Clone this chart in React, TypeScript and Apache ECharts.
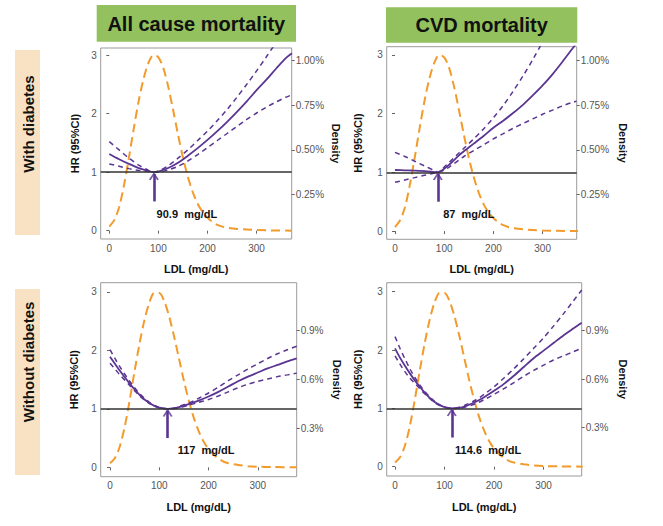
import React, { useEffect, useRef } from 'react';
import * as echarts from 'echarts';

// ---------- data ----------
const X_TICKS = [0, 100, 200, 300];
const HR_TICKS = [0, 1, 2, 3];
const DENS_TICKS_TOP = [0.25, 0.5, 0.75, 1.0];
const DENS_TICKS_BOTTOM = [0.3, 0.6, 0.9];

const COL_TITLES = ['All cause mortality', 'CVD mortality'];
const ROW_TITLES = ['With diabetes', 'Without diabetes'];

// density (drawn in HR units)
const densXTop = [0, 10, 20, 30, 40, 50, 60, 70, 80, 90, 100, 110, 120, 130, 140, 150, 160, 170, 180, 190, 200, 210, 220, 230, 240, 260, 280, 300, 330, 372];
const densTop = [0.07, 0.18, 0.4, 0.78, 1.25, 1.75, 2.22, 2.6, 2.87, 3.0, 2.96, 2.78, 2.46, 2.06, 1.64, 1.25, 0.92, 0.66, 0.46, 0.32, 0.22, 0.15, 0.1, 0.07, 0.05, 0.03, 0.02, 0.01, 0.005, 0.0];
const densXBottom = [0, 10, 20, 30, 40, 50, 60, 70, 80, 90, 100, 110, 120, 130, 140, 150, 160, 170, 180, 190, 200, 210, 220, 230, 240, 260, 280, 300, 330, 379];
const densBottom = [0.07, 0.16, 0.36, 0.7, 1.15, 1.65, 2.12, 2.52, 2.82, 2.98, 2.98, 2.84, 2.58, 2.24, 1.86, 1.48, 1.14, 0.85, 0.62, 0.44, 0.31, 0.22, 0.15, 0.1, 0.07, 0.04, 0.02, 0.01, 0.005, 0.0];

// With diabetes, all cause
const ldlWA = [0, 20, 40, 60, 80, 90.9, 100, 120, 140, 160, 180, 200, 220, 240, 260, 280, 300, 320, 340, 360, 372];
const hrWA = [1.31, 1.22, 1.14, 1.07, 1.02, 1.0, 1.01, 1.07, 1.16, 1.28, 1.41, 1.55, 1.7, 1.86, 2.03, 2.21, 2.4, 2.58, 2.77, 2.95, 3.03];
const upWA = [1.52, 1.38, 1.24, 1.12, 1.03, 1.0, 1.02, 1.11, 1.24, 1.38, 1.54, 1.7, 1.88, 2.07, 2.28, 2.5, 2.73, 2.97, 3.22, 3.47, 3.62];
const loWA = [1.14, 1.1, 1.06, 1.03, 1.01, 1.0, 1.0, 1.04, 1.1, 1.19, 1.3, 1.42, 1.54, 1.66, 1.78, 1.9, 2.01, 2.11, 2.2, 2.28, 2.32];

// With diabetes, CVD
const ldlWC = [0, 20, 40, 60, 80, 87, 100, 110, 120, 130, 140, 160, 180, 200, 220, 240, 260, 280, 300, 320, 340, 360, 369];
const hrWC = [1.04, 1.035, 1.03, 1.02, 1.005, 1.0, 1.06, 1.13, 1.21, 1.29, 1.36, 1.49, 1.62, 1.76, 1.88, 2.01, 2.15, 2.31, 2.48, 2.67, 2.88, 3.1, 3.2];
const upWC = [1.34, 1.27, 1.19, 1.11, 1.03, 1.0, 1.09, 1.17, 1.25, 1.33, 1.41, 1.57, 1.74, 1.93, 2.14, 2.38, 2.64, 2.92, 3.22, 3.52, 3.82, 4.12, 4.26];
const loWC = [0.83, 0.87, 0.91, 0.95, 0.99, 1.0, 1.04, 1.09, 1.15, 1.21, 1.27, 1.37, 1.47, 1.57, 1.66, 1.75, 1.83, 1.91, 1.99, 2.06, 2.13, 2.19, 2.21];

// Without diabetes, all cause
const ldlNA = [0, 10, 20, 30, 40, 50, 60, 70, 80, 90, 100, 117, 130, 140, 160, 180, 200, 220, 240, 260, 280, 300, 320, 340, 360, 379];
const hrNA = [1.89, 1.77, 1.65, 1.54, 1.43, 1.33, 1.24, 1.16, 1.1, 1.05, 1.02, 1.0, 1.01, 1.03, 1.08, 1.14, 1.21, 1.29, 1.38, 1.47, 1.55, 1.62, 1.69, 1.75, 1.81, 1.86];
const upNA = [2.01, 1.86, 1.72, 1.59, 1.47, 1.36, 1.26, 1.18, 1.11, 1.06, 1.02, 1.0, 1.01, 1.04, 1.1, 1.18, 1.27, 1.37, 1.48, 1.58, 1.68, 1.77, 1.86, 1.94, 2.01, 2.07];
const loNA = [1.78, 1.68, 1.58, 1.49, 1.4, 1.31, 1.22, 1.15, 1.09, 1.05, 1.02, 1.0, 1.0, 1.02, 1.06, 1.11, 1.16, 1.22, 1.29, 1.36, 1.42, 1.47, 1.51, 1.55, 1.58, 1.61];

// Without diabetes, CVD
const ldlNC = [0, 10, 20, 30, 40, 50, 60, 70, 80, 90, 100, 114.6, 130, 140, 160, 180, 200, 220, 240, 260, 280, 300, 320, 340, 360, 377];
const hrNC = [2.03, 1.87, 1.73, 1.6, 1.48, 1.37, 1.27, 1.18, 1.11, 1.06, 1.02, 1.0, 1.01, 1.03, 1.1, 1.19, 1.3, 1.42, 1.56, 1.71, 1.86, 1.99, 2.12, 2.25, 2.37, 2.47];
const upNC = [2.23, 2.03, 1.85, 1.68, 1.53, 1.4, 1.29, 1.2, 1.12, 1.06, 1.02, 1.0, 1.02, 1.05, 1.13, 1.24, 1.37, 1.52, 1.68, 1.85, 2.03, 2.21, 2.41, 2.62, 2.84, 3.03];
const loNC = [1.9, 1.76, 1.63, 1.52, 1.43, 1.34, 1.25, 1.17, 1.1, 1.05, 1.02, 1.0, 1.0, 1.02, 1.07, 1.15, 1.24, 1.34, 1.44, 1.55, 1.65, 1.74, 1.83, 1.9, 1.97, 2.03];

const NADIRS = [90.9, 87, 117, 114.6];
const NADIR_LABELS = ['90.9  mg/dL', '87  mg/dL', '117  mg/dL', '114.6  mg/dL'];

// ---------- layout / style ----------
const FONT = '"Liberation Sans", Arial, Helvetica, sans-serif';
const ORANGE = '#f29b2c';
const PURPLE = '#5a3592';
const CHEVRON = 'path://M0,7 L5,0 L10,7 L8.2,7.6 L5,2.8 L1.8,7.6 Z';

const LAYOUT = [
  { left: 100.7, top: 48, width: 191, height: 191, xMin: -17.5, xMax: 371.5, yMin: -0.142, yMax: 3.12, dMax: 1.071, hrGap: 20, dGap: 39, xGap: 24, labelX: 158 },
  { left: 386.7, top: 46.7, width: 190, height: 192.6, xMin: -16.9, xMax: 369.3, yMin: -0.14, yMax: 3.14, dMax: 1.078, hrGap: 23, dGap: 41, xGap: 24, labelX: 150 },
  { left: 100.7, top: 282.7, width: 196, height: 194, xMin: -18.9, xMax: 379, yMin: -0.16, yMax: 3.155, dMax: 1.196, hrGap: 21, dGap: 35, xGap: 25, labelX: 195 },
  { left: 386.7, top: 282.7, width: 195, height: 193.3, xMin: -16.8, xMax: 377, yMin: -0.16, yMax: 3.155, dMax: 1.197, hrGap: 23, dGap: 36, xGap: 25, labelX: 188 },
];

const zip = (xs: number[], ys: number[]) => xs.map((x, i) => [x, ys[i]]);

export default function App() {
  const ref = useRef<HTMLDivElement>(null);
  useEffect(() => {
    if (!ref.current) return;
    const chart = echarts.init(ref.current, undefined, { renderer: 'svg' });

    const curves = [
      { ldl: ldlWA, hr: hrWA, up: upWA, lo: loWA, dx: densXTop, d: densTop, dTicks: DENS_TICKS_TOP, dDec: 2 },
      { ldl: ldlWC, hr: hrWC, up: upWC, lo: loWC, dx: densXTop, d: densTop, dTicks: DENS_TICKS_TOP, dDec: 2 },
      { ldl: ldlNA, hr: hrNA, up: upNA, lo: loNA, dx: densXBottom, d: densBottom, dTicks: DENS_TICKS_BOTTOM, dDec: 1 },
      { ldl: ldlNC, hr: hrNC, up: upNC, lo: loNC, dx: densXBottom, d: densBottom, dTicks: DENS_TICKS_BOTTOM, dDec: 1 },
    ];

    const tickLabel = { color: '#555', fontSize: 10, fontFamily: FONT };
    const nameStyle = { fontWeight: 'bold', fontSize: 11, color: '#111', fontFamily: FONT };

    const grid = LAYOUT.map((L) => ({
      left: L.left, top: L.top, width: L.width, height: L.height,
      show: true, borderColor: '#9a9a9a', borderWidth: 1, backgroundColor: 'transparent',
    }));

    const xAxis = LAYOUT.map((L, i) => ({
      type: 'value', gridIndex: i, min: L.xMin, max: L.xMax,
      axisLine: { show: false }, splitLine: { show: false },
      axisTick: { show: true, length: 3, lineStyle: { color: '#666' }, customValues: X_TICKS },
      axisLabel: { ...tickLabel, margin: 4, customValues: X_TICKS },
      name: 'LDL (mg/dL)', nameLocation: 'middle', nameGap: L.xGap, nameTextStyle: nameStyle,
    }));

    const yAxis: any[] = [];
    LAYOUT.forEach((L, i) => {
      const c = curves[i];
      yAxis.push({
        type: 'value', gridIndex: i, position: 'left', min: L.yMin, max: L.yMax,
        axisLine: { show: false }, splitLine: { show: false },
        axisTick: { show: true, length: 3, lineStyle: { color: '#666' }, customValues: HR_TICKS },
        axisLabel: { ...tickLabel, margin: 4, customValues: HR_TICKS },
        name: 'HR (95%CI)', nameLocation: 'middle', nameRotate: 90, nameGap: L.hrGap, nameTextStyle: nameStyle,
      });
      yAxis.push({
        type: 'value', gridIndex: i, position: 'right', min: 0, max: L.dMax,
        axisLine: { show: false }, splitLine: { show: false },
        axisTick: { show: true, length: 3, lineStyle: { color: '#666' }, customValues: c.dTicks },
        axisLabel: { ...tickLabel, margin: 4, customValues: c.dTicks, formatter: (v: number) => v.toFixed(c.dDec) + '%' },
        name: 'Density', nameLocation: 'middle', nameRotate: -90, nameGap: L.dGap, nameTextStyle: nameStyle,
      });
    });

    const series: any[] = [];
    curves.forEach((c, i) => {
      const base = { type: 'line', xAxisIndex: i, yAxisIndex: 2 * i, showSymbol: false, silent: true, clip: true };
      series.push({
        ...base, data: zip(c.dx, c.d), smooth: 0.3,
        lineStyle: { color: ORANGE, width: 2, type: [9, 5] },
      });
      series.push({
        ...base, data: zip(c.ldl, c.lo), smooth: 0.3,
        lineStyle: { color: PURPLE, width: 1.5, type: [5, 4] },
        markLine: {
          silent: true, symbol: 'none', label: { show: false }, animation: false,
          lineStyle: { color: '#333', width: 1.5, type: 'solid' },
          data: [{ yAxis: 1 }],
        },
      });
      series.push({
        ...base, data: zip(c.ldl, c.up), smooth: 0.3,
        lineStyle: { color: PURPLE, width: 1.5, type: [5, 4] },
      });
      series.push({
        ...base, data: zip(c.ldl, c.hr), smooth: 0.3,
        lineStyle: { color: PURPLE, width: 1.8, type: 'solid' },
        markLine: {
          silent: true, symbol: 'none', label: { show: false }, animation: false,
          lineStyle: { color: PURPLE, width: 2.6, type: 'solid' },
          data: [[{ coord: [NADIRS[i], 0.5] }, { coord: [NADIRS[i], 0.97] }]],
        },
        markPoint: {
          silent: true, symbol: 'rect', symbolSize: 1, animation: false,
          itemStyle: { color: 'rgba(0,0,0,0)' },
          label: { show: true, position: 'inside', formatter: NADIR_LABELS[i], fontWeight: 'bold', fontSize: 11, color: '#111', fontFamily: FONT },
          data: [{ coord: [LAYOUT[i].labelX, 0.29] }],
        },
      });
      // arrow head
      series.push({
        type: 'scatter', xAxisIndex: i, yAxisIndex: 2 * i, silent: true, z: 5,
        data: [[NADIRS[i], 1.0]],
        symbol: CHEVRON, symbolSize: [10, 8], symbolOffset: [0, '50%'],
        itemStyle: { color: PURPLE },
      });
    });

    const graphic: any[] = [
      { type: 'rect', shape: { x: 96.7, y: 5, width: 199.3, height: 36.7 }, style: { fill: '#92c15d' } },
      { type: 'text', x: 196.3, y: 23.5, style: { text: COL_TITLES[0], font: `bold 20px ${FONT}`, fill: '#111', textAlign: 'center', textVerticalAlign: 'middle' } },
      { type: 'rect', shape: { x: 386, y: 7.3, width: 191.3, height: 35.4 }, style: { fill: '#92c15d' } },
      { type: 'text', x: 481.7, y: 25, style: { text: COL_TITLES[1], font: `bold 20px ${FONT}`, fill: '#111', textAlign: 'center', textVerticalAlign: 'middle' } },
      { type: 'rect', shape: { x: 15, y: 50, width: 25, height: 185 }, style: { fill: '#f9e1c3' } },
      { type: 'text', x: 28, y: 124, rotation: Math.PI / 2, style: { text: ROW_TITLES[0], font: `bold 15px ${FONT}`, fill: '#111', textAlign: 'center', textVerticalAlign: 'middle' } },
      { type: 'rect', shape: { x: 15, y: 289, width: 25, height: 186 }, style: { fill: '#f9e1c3' } },
      { type: 'text', x: 28, y: 362, rotation: Math.PI / 2, style: { text: ROW_TITLES[1], font: `bold 15px ${FONT}`, fill: '#111', textAlign: 'center', textVerticalAlign: 'middle' } },
    ];

    chart.setOption({
      animation: false,
      backgroundColor: '#ffffff',
      grid, xAxis, yAxis, series, graphic,
    });
    return () => chart.dispose();
  }, []);

  return <div ref={ref} style={{ position: 'fixed', left: 0, top: 0, width: 663, height: 526 }} />;
}
